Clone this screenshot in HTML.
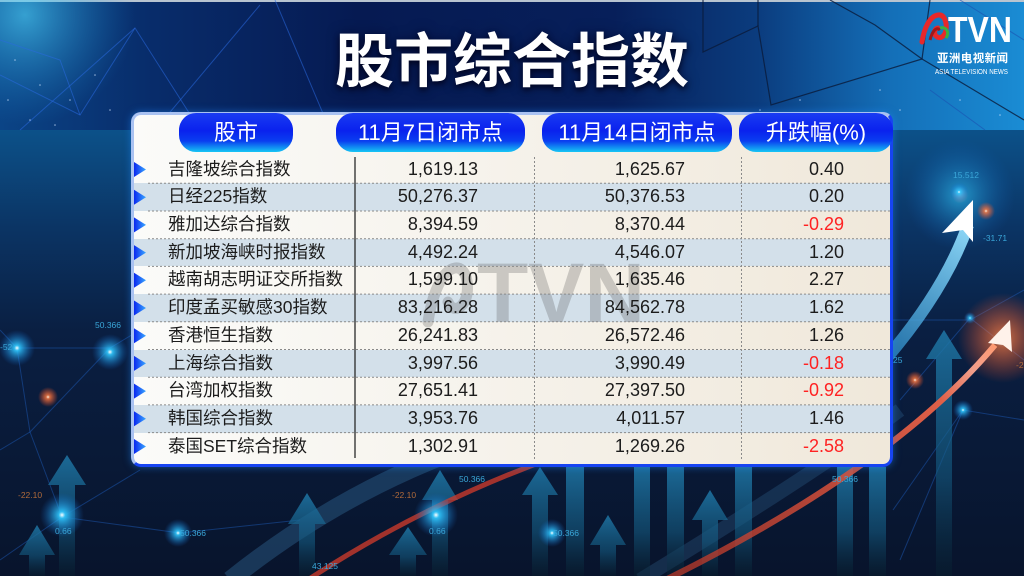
<!DOCTYPE html>
<html>
<head>
<meta charset="utf-8">
<style>
*{margin:0;padding:0;box-sizing:border-box}
html,body{width:1024px;height:576px;overflow:hidden;background:#0a1a35}
#wrap{position:relative;width:1024px;height:576px;overflow:hidden;font-family:"Liberation Sans","Noto Sans CJK SC",sans-serif}
.abs{position:absolute}
#title{position:absolute;left:0;width:1024px;top:33px;text-align:center;color:#fff;font-weight:bold;font-size:59px;line-height:59px;font-family:"Liberation Sans","Noto Sans CJK SC",sans-serif;text-shadow:0 3px 6px rgba(0,0,20,0.75),0 0 12px rgba(0,0,40,0.5)}
#panel{position:absolute;left:131px;top:112px;width:762px;height:355px;border-radius:10px;border:3px solid;border-color:#a9c2f2 #1744f2 #1744f2 #a9c2f2;background:linear-gradient(90deg,#fbfbf9 0%,#f6f3ec 45%,#f0e8da 100%);box-shadow:0 0 8px rgba(30,140,255,0.5)}
.pill{position:absolute;top:113px;height:39px;border-radius:17px;color:#fff;font-size:22px;line-height:39px;text-align:center;background:linear-gradient(180deg,#1a3cf2 0%,#0a22ee 45%,#0a3ef0 72%,#16c6f4 100%);font-family:"Liberation Sans","Noto Sans CJK SC",sans-serif;white-space:nowrap}
.row{position:absolute;left:134px;width:756px;height:27.7px}
.alt{background:#d3e0ea}
.nm{position:absolute;left:168px;font-size:17.5px;color:#1c1c1c;white-space:nowrap}
.num{position:absolute;font-size:18px;color:#1c1c1c;text-align:right;white-space:nowrap}
.red{color:#ff2222}
</style>
</head>
<body>
<div id="wrap">
<svg class="abs" style="left:0;top:0" width="1024" height="576" viewBox="0 0 1024 576">
<defs>
<linearGradient id="lower" x1="0" y1="130" x2="0" y2="576" gradientUnits="userSpaceOnUse">
<stop offset="0" stop-color="#0c5189"/>
<stop offset="0.22" stop-color="#0b3464"/>
<stop offset="0.45" stop-color="#0a1f42"/>
<stop offset="1" stop-color="#08142c"/>
</linearGradient>
<linearGradient id="top" x1="0" y1="0" x2="1024" y2="0" gradientUnits="userSpaceOnUse">
<stop offset="0" stop-color="#0b4486"/>
<stop offset="0.15" stop-color="#082c6a"/>
<stop offset="0.35" stop-color="#061a52"/>
<stop offset="0.6" stop-color="#071f5a"/>
<stop offset="0.74" stop-color="#0b3c7e"/>
<stop offset="0.87" stop-color="#146fb8"/>
<stop offset="1" stop-color="#1a8cd4"/>
</linearGradient>
<radialGradient id="glowC"><stop offset="0" stop-color="#4fd8ff" stop-opacity="0.9"/><stop offset="1" stop-color="#1a8ad0" stop-opacity="0"/></radialGradient>
<radialGradient id="glowB"><stop offset="0" stop-color="#ffffff" stop-opacity="1"/><stop offset="0.15" stop-color="#30c8ff" stop-opacity="0.9"/><stop offset="1" stop-color="#1060c0" stop-opacity="0"/></radialGradient>
<radialGradient id="glowO"><stop offset="0" stop-color="#fff0e0" stop-opacity="1"/><stop offset="0.2" stop-color="#ff7a40" stop-opacity="0.8"/><stop offset="1" stop-color="#ff5020" stop-opacity="0"/></radialGradient>
<linearGradient id="arr" x1="0" y1="0" x2="0" y2="1">
<stop offset="0" stop-color="#1f78a8" stop-opacity="0.85"/>
<stop offset="0.6" stop-color="#145a80" stop-opacity="0.6"/>
<stop offset="1" stop-color="#08202e" stop-opacity="0.4"/>
</linearGradient>
<linearGradient id="blueArc" x1="880" y1="360" x2="975" y2="210" gradientUnits="userSpaceOnUse">
<stop offset="0" stop-color="#2a90d0" stop-opacity="0.7"/>
<stop offset="1" stop-color="#9de4ff"/>
</linearGradient>
<linearGradient id="redArc" x1="660" y1="576" x2="1000" y2="340" gradientUnits="userSpaceOnUse">
<stop offset="0" stop-color="#c03828" stop-opacity="0.7"/>
<stop offset="0.8" stop-color="#e06048"/>
<stop offset="1" stop-color="#ffd8c8"/>
</linearGradient>
</defs>
<rect x="0" y="0" width="1024" height="576" fill="url(#lower)"/>
<rect x="0" y="0" width="1024" height="130" fill="url(#top)"/>
<rect x="0" y="0" width="1024" height="2" fill="#b8c4d0"/>
<circle cx="25" cy="15" r="110" fill="url(#glowC)" opacity="0.7"/>
<g stroke="#2a6ae0" stroke-opacity="0.55" stroke-width="1" fill="none">
<polyline points="0,75 80,115 135,28 200,130"/>
<polyline points="135,28 20,130"/>
<polyline points="260,5 155,130"/>
<polyline points="275,0 330,130"/>
<polyline points="0,40 60,60 80,115"/>
</g>
<g stroke="#0a1a3a" stroke-opacity="0.8" stroke-width="1.2" fill="none">
<polyline points="703,0 703,52 758,26 771,105 922,59 930,0"/>
<polyline points="758,0 758,26"/>
<polyline points="830,0 875,25 922,59"/>
<polyline points="922,59 1024,120"/>
</g>
<g stroke="#1a50b0" stroke-opacity="0.6" stroke-width="1" fill="none">
<polyline points="930,90 985,130"/>
<polyline points="960,0 1024,40"/>
</g>
<g fill="#cfe4ff" opacity="0.7">
<circle cx="15" cy="60" r="0.8"/><circle cx="40" cy="85" r="0.8"/><circle cx="70" cy="100" r="0.8"/><circle cx="30" cy="120" r="0.8"/><circle cx="95" cy="75" r="0.8"/><circle cx="110" cy="110" r="0.8"/><circle cx="8" cy="100" r="0.8"/><circle cx="55" cy="125" r="0.8"/>
<circle cx="760" cy="110" r="0.8"/><circle cx="800" cy="100" r="0.8"/><circle cx="850" cy="120" r="0.8"/><circle cx="900" cy="110" r="0.8"/><circle cx="960" cy="100" r="0.8"/><circle cx="1000" cy="115" r="0.8"/><circle cx="880" cy="90" r="0.8"/>
</g>
<!-- network lines lower -->
<g stroke="#1f60c0" stroke-opacity="0.45" stroke-width="1" fill="none">
<polyline points="0,330 17,348 110,348 140,330"/>
<polyline points="17,348 30,432 110,348"/>
<polyline points="0,450 30,432 62,517 140,470"/>
<polyline points="62,517 180,533 300,520"/>
<polyline points="0,560 62,517"/>
<polyline points="880,320 970,320 1024,290"/>
<polyline points="900,400 970,318 1024,360"/>
<polyline points="893,510 963,410 1024,420"/>
<polyline points="900,560 963,410"/>
</g>
<!-- faint blue wide arc -->
<path d="M 230 580 Q 330 500 445 455" stroke="#3a78a8" stroke-opacity="0.35" stroke-width="18" fill="none"/>
<path d="M 640 580 Q 820 470 900 410" stroke="#3a78a8" stroke-opacity="0.25" stroke-width="14" fill="none"/>
<!-- arrows -->
<g fill="url(#arr)">
<path d="M37,525 L55,555 L45,555 L45,576 L29,576 L29,555 L19,555 Z"/>
<path d="M67,455 L86,485 L75,485 L75,576 L59,576 L59,485 L48,485 Z"/>
<path d="M307,493 L326,524 L315,524 L315,576 L299,576 L299,524 L288,524 Z"/>
<path d="M408,527 L427,555 L416,555 L416,576 L400,576 L400,555 L389,555 Z"/>
<path d="M440,470 L458,500 L448,500 L448,576 L432,576 L432,500 L422,500 Z"/>
<path d="M540,467 L558,495 L548,495 L548,576 L532,576 L532,495 L522,495 Z"/>
<path d="M608,515 L626,545 L616,545 L616,576 L600,576 L600,545 L590,545 Z"/>
<path d="M710,490 L728,520 L718,520 L718,576 L702,576 L702,520 L692,520 Z"/>
<path d="M944,330 L962,359 L952,359 L952,576 L936,576 L936,359 L926,359 Z"/>
<rect x="566" y="467" width="18" height="109"/>
<rect x="634" y="467" width="16" height="109"/>
<rect x="667" y="467" width="17" height="109"/>
<rect x="735" y="467" width="17" height="109"/>
<rect x="837" y="467" width="16" height="109"/>
<rect x="869" y="467" width="17" height="109"/>
</g>
<!-- red arcs -->
<path d="M 300 585 Q 420 505 560 455" stroke="#c83a2c" stroke-opacity="0.8" stroke-width="5" fill="none"/>
<path d="M 655 585 Q 890 470 995 345" stroke="url(#redArc)" stroke-width="6" fill="none"/>
<circle cx="1003" cy="338" r="45" fill="url(#glowO)" opacity="0.8"/>
<path d="M1010,320 L1012,352 L1003,345 L988,343 Z" fill="#fff2ea"/>
<!-- blue arc -->
<circle cx="960" cy="195" r="55" fill="url(#glowB)" opacity="0.55"/>
<path d="M 885 360 Q 945 290 968 225" stroke="url(#blueArc)" stroke-width="12" fill="none"/>
<path d="M973,200 L973,242 L963,230 L942,233 Z" fill="#ffffff"/>
<!-- glow dots -->
<circle cx="17" cy="348" r="18" fill="url(#glowB)"/>
<circle cx="110" cy="352" r="18" fill="url(#glowB)"/>
<circle cx="48" cy="397" r="10" fill="url(#glowO)"/>
<circle cx="62" cy="515" r="22" fill="url(#glowB)"/>
<circle cx="178" cy="533" r="14" fill="url(#glowB)"/>
<circle cx="436" cy="515" r="22" fill="url(#glowB)"/>
<circle cx="552" cy="533" r="14" fill="url(#glowB)"/>
<circle cx="959" cy="192" r="10" fill="url(#glowB)"/>
<circle cx="986" cy="211" r="9" fill="url(#glowO)"/>
<circle cx="915" cy="380" r="9" fill="url(#glowO)"/>
<circle cx="963" cy="410" r="10" fill="url(#glowB)"/>
<circle cx="970" cy="318" r="6" fill="url(#glowB)"/>
<!-- labels -->
<g font-family="Liberation Sans, sans-serif" font-size="8.5" fill="#3aa6d8">
<text x="95" y="328">50.366</text>
<text x="0" y="350">-52</text>
<text x="55" y="534">0.66</text>
<text x="180" y="536">50.366</text>
<text x="429" y="534">0.66</text>
<text x="459" y="482">50.366</text>
<text x="553" y="536">50.366</text>
<text x="312" y="569">43.125</text>
<text x="832" y="482">50.366</text>
<text x="953" y="178">15.512</text>
<text x="983" y="241">-31.71</text>
<text x="893" y="363">25</text>
</g>
<g font-family="Liberation Sans, sans-serif" font-size="8.5" fill="#b06a3a">
<text x="18" y="498">-22.10</text>
<text x="392" y="498">-22.10</text>
<text x="1016" y="368">-2</text>
</g>
</svg>

<div id="title">股市综合指数</div>

<!-- logo -->
<svg class="abs" style="left:900px;top:0" width="124" height="80" viewBox="0 0 124 80">
<path d="M22,42 C24,28 30,16 38,15 C45,14 47,24 46,30 C45,36 40,40 36,36 C33,33 35,28 38,28" stroke="#e8282a" stroke-width="5" fill="none" stroke-linecap="round"/>
<path d="M30,40 C32,32 36,26 40,30" stroke="#a01818" stroke-width="3" fill="none"/>
<path d="M40,28 C46,26 50,32 46,38" stroke="#3ab040" stroke-width="3" fill="none"/>
<text x="48" y="42" font-family="Liberation Sans, sans-serif" font-weight="bold" font-size="36" fill="#ffffff" textLength="64" lengthAdjust="spacingAndGlyphs">TVN</text>
<text x="37" y="62" font-family="Liberation Sans, Noto Sans CJK SC, sans-serif" font-weight="bold" font-size="11.5" fill="#ffffff" textLength="71" lengthAdjust="spacing">亚洲电视新闻</text>
<text x="35" y="74" font-family="Liberation Sans, sans-serif" font-size="7" fill="#ffffff" textLength="73" lengthAdjust="spacingAndGlyphs">ASIA TELEVISION NEWS</text>
</svg>

<div id="panel"></div>

<!-- rows -->
<div class="row" style="top:183.3px" ></div>
<div class="row alt" style="top:183.3px"></div>
<div class="row alt" style="top:238.7px"></div>
<div class="row alt" style="top:294.1px"></div>
<div class="row alt" style="top:349.5px"></div>
<div class="row alt" style="top:404.9px"></div>

<!-- watermark -->
<svg class="abs" style="left:0;top:0" width="1024" height="576" viewBox="0 0 1024 576">
<path d="M428,322 C432,295 442,270 455,268 C466,266 470,285 466,298 C462,310 452,312 448,302" stroke="rgba(90,90,90,0.28)" stroke-width="11" fill="none" stroke-linecap="round"/>
<text x="477" y="322" font-family="Liberation Sans, sans-serif" font-weight="bold" font-size="84" fill="rgba(90,90,90,0.28)">TVN</text>
</svg>

<!-- lines & triangles -->
<svg class="abs" style="left:0;top:0" width="1024" height="576" viewBox="0 0 1024 576">
<defs>
<linearGradient id="tri" x1="0" y1="0" x2="1" y2="0">
<stop offset="0" stop-color="#0a28f0"/>
<stop offset="1" stop-color="#3aa8ff"/>
</linearGradient>
</defs>
<g stroke="#8a8a8a" stroke-width="1" stroke-dasharray="2,2">
<line x1="148" y1="183.3" x2="890" y2="183.3"/>
<line x1="148" y1="211" x2="890" y2="211"/>
<line x1="148" y1="238.7" x2="890" y2="238.7"/>
<line x1="148" y1="266.4" x2="890" y2="266.4"/>
<line x1="148" y1="294.1" x2="890" y2="294.1"/>
<line x1="148" y1="321.8" x2="890" y2="321.8"/>
<line x1="148" y1="349.5" x2="890" y2="349.5"/>
<line x1="148" y1="377.2" x2="890" y2="377.2"/>
<line x1="148" y1="404.9" x2="890" y2="404.9"/>
<line x1="148" y1="432.6" x2="890" y2="432.6"/>
<line x1="534.5" y1="157" x2="534.5" y2="459"/>
<line x1="741.5" y1="157" x2="741.5" y2="459"/>
</g>
<line x1="355" y1="157" x2="355" y2="458" stroke="#2a2a2a" stroke-width="1.3"/>
<g fill="url(#tri)">
<polygon points="134,162 146,169.5 134,177"/>
<polygon points="134,189.7 146,197.2 134,204.7"/>
<polygon points="134,217.4 146,224.9 134,232.4"/>
<polygon points="134,245.1 146,252.6 134,260.1"/>
<polygon points="134,272.8 146,280.3 134,287.8"/>
<polygon points="134,300.5 146,308 134,315.5"/>
<polygon points="134,328.2 146,335.7 134,343.2"/>
<polygon points="134,355.9 146,363.4 134,370.9"/>
<polygon points="134,383.6 146,391.1 134,398.6"/>
<polygon points="134,411.3 146,418.8 134,426.3"/>
<polygon points="134,439 146,446.5 134,454"/>
</g>
</svg>

<!-- header pills -->
<div class="pill" style="left:179px;width:114px">股市</div>
<div class="pill" style="left:336px;width:189px">11月7日闭市点</div>
<div class="pill" style="left:542px;width:190px">11月14日闭市点</div>
<div class="pill" style="left:739px;width:154px">升跌幅(%)</div>

<!-- text rows -->
<div id="rows"></div>
<div class="nm" style="top:155.6px;line-height:27.7px">吉隆坡综合指数</div>
<div class="nm" style="top:183.3px;line-height:27.7px">日经225指数</div>
<div class="nm" style="top:211px;line-height:27.7px">雅加达综合指数</div>
<div class="nm" style="top:238.7px;line-height:27.7px">新加坡海峡时报指数</div>
<div class="nm" style="top:266.4px;line-height:27.7px">越南胡志明证交所指数</div>
<div class="nm" style="top:294.1px;line-height:27.7px">印度孟买敏感30指数</div>
<div class="nm" style="top:321.8px;line-height:27.7px">香港恒生指数</div>
<div class="nm" style="top:349.5px;line-height:27.7px">上海综合指数</div>
<div class="nm" style="top:377.2px;line-height:27.7px">台湾加权指数</div>
<div class="nm" style="top:404.9px;line-height:27.7px">韩国综合指数</div>
<div class="nm" style="top:432.6px;line-height:27.7px">泰国SET综合指数</div>

<div class="num" style="right:546px;top:155.6px;line-height:27.7px">1,619.13</div>
<div class="num" style="right:546px;top:183.3px;line-height:27.7px">50,276.37</div>
<div class="num" style="right:546px;top:211px;line-height:27.7px">8,394.59</div>
<div class="num" style="right:546px;top:238.7px;line-height:27.7px">4,492.24</div>
<div class="num" style="right:546px;top:266.4px;line-height:27.7px">1,599.10</div>
<div class="num" style="right:546px;top:294.1px;line-height:27.7px">83,216.28</div>
<div class="num" style="right:546px;top:321.8px;line-height:27.7px">26,241.83</div>
<div class="num" style="right:546px;top:349.5px;line-height:27.7px">3,997.56</div>
<div class="num" style="right:546px;top:377.2px;line-height:27.7px">27,651.41</div>
<div class="num" style="right:546px;top:404.9px;line-height:27.7px">3,953.76</div>
<div class="num" style="right:546px;top:432.6px;line-height:27.7px">1,302.91</div>

<div class="num" style="right:339px;top:155.6px;line-height:27.7px">1,625.67</div>
<div class="num" style="right:339px;top:183.3px;line-height:27.7px">50,376.53</div>
<div class="num" style="right:339px;top:211px;line-height:27.7px">8,370.44</div>
<div class="num" style="right:339px;top:238.7px;line-height:27.7px">4,546.07</div>
<div class="num" style="right:339px;top:266.4px;line-height:27.7px">1,635.46</div>
<div class="num" style="right:339px;top:294.1px;line-height:27.7px">84,562.78</div>
<div class="num" style="right:339px;top:321.8px;line-height:27.7px">26,572.46</div>
<div class="num" style="right:339px;top:349.5px;line-height:27.7px">3,990.49</div>
<div class="num" style="right:339px;top:377.2px;line-height:27.7px">27,397.50</div>
<div class="num" style="right:339px;top:404.9px;line-height:27.7px">4,011.57</div>
<div class="num" style="right:339px;top:432.6px;line-height:27.7px">1,269.26</div>

<div class="num" style="right:180px;top:155.6px;line-height:27.7px">0.40</div>
<div class="num" style="right:180px;top:183.3px;line-height:27.7px">0.20</div>
<div class="num red" style="right:180px;top:211px;line-height:27.7px">-0.29</div>
<div class="num" style="right:180px;top:238.7px;line-height:27.7px">1.20</div>
<div class="num" style="right:180px;top:266.4px;line-height:27.7px">2.27</div>
<div class="num" style="right:180px;top:294.1px;line-height:27.7px">1.62</div>
<div class="num" style="right:180px;top:321.8px;line-height:27.7px">1.26</div>
<div class="num red" style="right:180px;top:349.5px;line-height:27.7px">-0.18</div>
<div class="num red" style="right:180px;top:377.2px;line-height:27.7px">-0.92</div>
<div class="num" style="right:180px;top:404.9px;line-height:27.7px">1.46</div>
<div class="num red" style="right:180px;top:432.6px;line-height:27.7px">-2.58</div>
</div>
</body>
</html>
